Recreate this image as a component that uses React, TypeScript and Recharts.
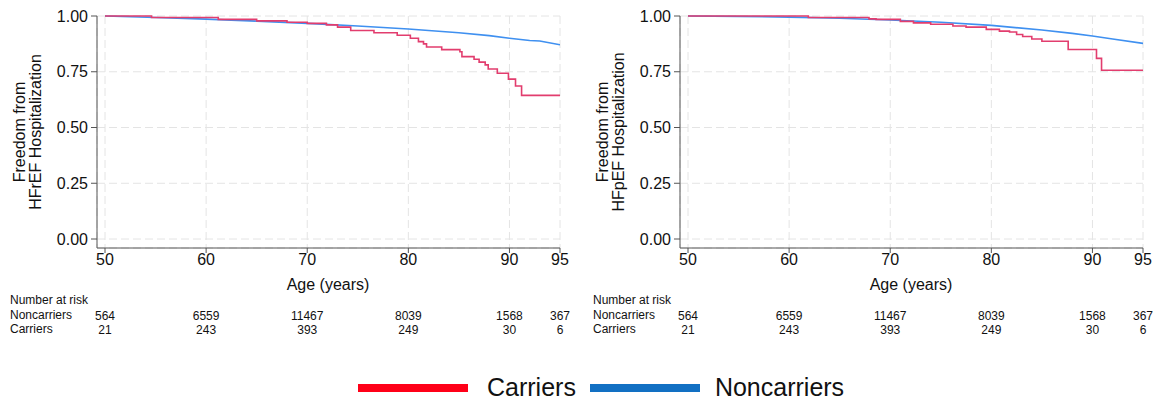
import { LineChart, Line, XAxis, YAxis, CartesianGrid, Label } from 'recharts'

// risk table columns (ages) and values
const riskAges = [50, 60, 70, 80, 90, 95]
const riskNoncarriers = [564, 6559, 11467, 8039, 1568, 367]
const riskCarriers = [21, 243, 393, 249, 30, 6]

// HFrEF panel
const hfrefCarrierAge = [50, 54.6, 61.2, 65, 68, 70, 71.9, 73, 74.3, 76.6, 78.9, 80.2, 81, 81.5, 81.8, 83.3, 85.1, 85.3, 86.5, 87, 87.6, 87.9, 88.8, 89.9, 90.6, 91.2, 95]
const hfrefCarrierSurv = [1.0, 0.993, 0.985, 0.978, 0.972, 0.967, 0.96, 0.95, 0.935, 0.925, 0.914, 0.9, 0.885, 0.875, 0.861, 0.849, 0.84, 0.818, 0.806, 0.793, 0.781, 0.762, 0.743, 0.717, 0.686, 0.644, 0.644]
const hfrefNoncarrierAge = [50, 55, 60, 65, 70, 75, 80, 85, 88, 90, 92, 93, 95]
const hfrefNoncarrierSurv = [1, 0.993, 0.986, 0.977, 0.967, 0.955, 0.942, 0.925, 0.912, 0.9, 0.89, 0.888, 0.871]

// HFpEF panel
const hfpefCarrierAge = [50, 61.9, 67.9, 68.6, 71, 72.3, 74, 76.2, 77.5, 79.5, 80.8, 81.8, 82.5, 83.1, 84, 85, 87.6, 90.4, 90.9, 95]
const hfpefCarrierSurv = [1, 0.993, 0.987, 0.985, 0.976, 0.969, 0.963, 0.955, 0.95, 0.94, 0.932, 0.928, 0.917, 0.908, 0.897, 0.887, 0.85, 0.81, 0.757, 0.757]
const hfpefNoncarrierAge = [50, 55, 60, 65, 70, 75, 80, 85, 88, 90, 92, 95]
const hfpefNoncarrierSurv = [1, 0.998, 0.995, 0.99, 0.982, 0.972, 0.958, 0.937, 0.922, 0.91, 0.897, 0.877]

const yTicks = [0, 0.25, 0.5, 0.75, 1]

const RED = '#e23d6e'
const BLUE = '#3f90f0'
const FONT = '"Liberation Sans", Arial, Helvetica, sans-serif'

const zip = (ages: number[], surv: number[]) => ages.map((a, i) => ({ age: a, s: surv[i] }))

interface PanelProps {
  left: number
  outcome: string
  carriers: { age: number; s: number }[]
  noncarriers: { age: number; s: number }[]
}

function Panel({ left, outcome, carriers, noncarriers }: PanelProps) {
  const xCommon = {
    type: 'number' as const,
    dataKey: 'age',
    domain: [50, 95],
    ticks: riskAges,
    padding: { left: 8, right: 0 },
    allowDataOverflow: true,
  }
  return (
    <div style={{ position: 'absolute', left, top: 0 }}>
      <LineChart width={580} height={340} margin={{ top: 16, right: 20, left: 0, bottom: 8 }}>
        <CartesianGrid xAxisId="a" stroke="#e4e4e4" strokeDasharray="8 4" />
        <XAxis
          xAxisId="a"
          {...xCommon}
          height={46}
          tickSize={5}
          tickMargin={1}
          stroke="#555"
          tick={{ fill: '#111', fontSize: 16 }}
        >
          <Label content={() => (
            <text x={328} y={290} textAnchor="middle" fontSize={16} fill="#111">Age (years)</text>
          )} />
        </XAxis>
        <XAxis
          xAxisId="b"
          {...xCommon}
          height={24}
          axisLine={false}
          tickLine={false}
          tickSize={0}
          tickMargin={17}
          tick={{ fill: '#111', fontSize: 12 }}
          tickFormatter={(v: number) => String(riskNoncarriers[riskAges.indexOf(v)])}
        >
          <Label content={() => (
            <g fontSize={12} fill="#111">
              <text x={10} y={304}>Number at risk</text>
              <text x={10} y={319}>Noncarriers</text>
            </g>
          )} />
        </XAxis>
        <XAxis
          xAxisId="c"
          {...xCommon}
          height={14}
          axisLine={false}
          tickLine={false}
          tickSize={0}
          tickMargin={7}
          tick={{ fill: '#111', fontSize: 12 }}
          tickFormatter={(v: number) => String(riskCarriers[riskAges.indexOf(v)])}
        >
          <Label content={() => (
            <text x={10} y={333} fontSize={12} fill="#111">Carriers</text>
          )} />
        </XAxis>
        <YAxis
          type="number"
          domain={[0, 1]}
          ticks={yTicks}
          width={97}
          padding={{ top: 0, bottom: 9 }}
          tickSize={6}
          tickMargin={3}
          stroke="#555"
          tick={{ fill: '#111', fontSize: 16 }}
          tickFormatter={(v: number) => v.toFixed(2)}
        >
          <Label content={() => (
            <text transform="translate(0,132) rotate(-90)" textAnchor="middle" fontSize={16} fill="#111">
              <tspan x={0} y={25}>Freedom from</tspan>
              <tspan x={0} y={41}>{outcome} Hospitalization</tspan>
            </text>
          )} />
        </YAxis>
        <Line xAxisId="a" data={noncarriers} dataKey="s" type="linear" stroke={BLUE} strokeWidth={1.6} dot={false} isAnimationActive={false} />
        <Line xAxisId="a" data={carriers} dataKey="s" type="stepAfter" stroke={RED} strokeWidth={1.6} dot={false} isAnimationActive={false} />
      </LineChart>
    </div>
  )
}

export default function App() {
  return (
    <div style={{ position: 'absolute', left: 0, top: 0, width: 1157, height: 402, background: '#fff', fontFamily: FONT, overflow: 'hidden' }}>
      <Panel left={0} outcome="HFrEF" carriers={zip(hfrefCarrierAge, hfrefCarrierSurv)} noncarriers={zip(hfrefNoncarrierAge, hfrefNoncarrierSurv)} />
      <Panel left={583} outcome="HFpEF" carriers={zip(hfpefCarrierAge, hfpefCarrierSurv)} noncarriers={zip(hfpefNoncarrierAge, hfpefNoncarrierSurv)} />
      <div style={{ position: 'absolute', left: 358, top: 373, display: 'flex', alignItems: 'center', fontSize: 25, color: '#111' }}>
        <div style={{ width: 110, height: 8, background: '#ff0018' }} />
        <span style={{ marginLeft: 19 }}>Carriers</span>
        <div style={{ width: 110, height: 8, background: '#1270c3', marginLeft: 14 }} />
        <span style={{ marginLeft: 15 }}>Noncarriers</span>
      </div>
    </div>
  )
}
